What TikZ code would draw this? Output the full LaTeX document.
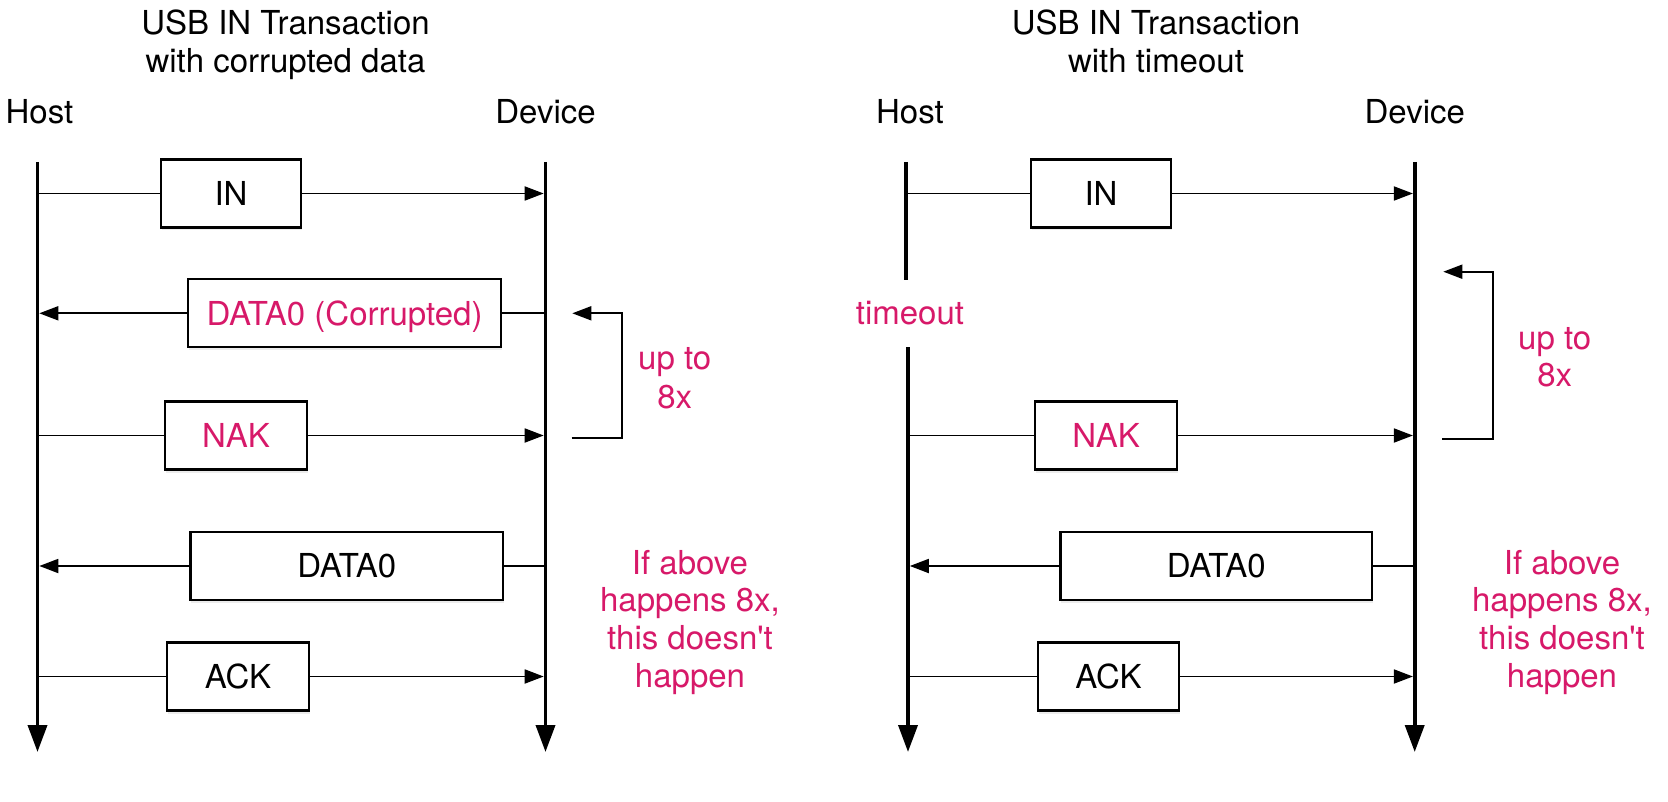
\documentclass[tikz,border=0pt]{standalone}
\usepackage{fontspec}
\setmainfont{TeX Gyre Heros}
\usetikzlibrary{arrows.meta,shadows}
\definecolor{mag}{RGB}{215,25,105}
\begin{document}
\begin{tikzpicture}[x=1pt,y=-1pt,
  every node/.style={font=\fontsize{33}{38}\selectfont, inner sep=0pt},
  life/.style={line width=3.7pt},
  lifearrow/.style={line width=3.7pt,-{Triangle[length=27pt,width=19pt]}},
  msg/.style={line width=1.8pt},
  msgarrow/.style={line width=1.8pt,-{Triangle[length=19pt,width=14pt]},shorten >=1.8pt},
  loopline/.style={line width=1.8pt,-{Triangle[length=19pt,width=14pt]}},
  pkt/.style={draw,line width=2.2pt,fill=white,minimum height=68pt,text height=23.7pt,text depth=0pt,
    drop shadow={shadow xshift=0.5pt,shadow yshift=-3pt,opacity=0.15}},
  lbl/.style={anchor=base},
  note/.style={anchor=base,text=mag}]
\useasboundingbox (0,0) rectangle (1668,802);

% ---------- Left diagram ----------
\coordinate (LHt) at (37.5,162);
\coordinate (LHb) at (37.5,752);
\coordinate (LDt) at (545.5,162);
\coordinate (LDb) at (545.5,752);

\node[lbl] (Lt1) at (285.5,34.3) {USB IN Transaction};
\node[lbl] (Lt2) at (285.5,72.7) {with corrupted data};
\node[lbl] (Lhost) at (39.5,123.3) {Host};
\node[lbl] (Ldev) at (545.5,123.3) {Device};

\node[pkt,minimum width=140pt] (Lin) at (231,193.5) {IN};
\node[pkt,minimum width=313pt,text=mag] (Ldc) at (344.5,313.3) {DATA0 (Corrupted)};
\node[pkt,minimum width=142pt,text=mag] (Lnak) at (236,435.5) {NAK};
\node[pkt,minimum width=312.5pt] (Ldata) at (346.75,566) {DATA0};
\node[pkt,minimum width=142pt] (Lack) at (238,676.5) {ACK};

\draw[msg] (LHt |- Lin.west) -- (Lin.west);
\draw[msgarrow] (Lin.east) -- (LDt |- Lin.east);
\draw[msg] (LDt |- Ldc.east) -- (Ldc.east);
\draw[msgarrow] (Ldc.west) -- (LHt |- Ldc.west);
\draw[msg] (LHt |- Lnak.west) -- (Lnak.west);
\draw[msgarrow] (Lnak.east) -- (LDt |- Lnak.east);
\draw[msg] (LDt |- Ldata.east) -- (Ldata.east);
\draw[msgarrow] (Ldata.west) -- (LHt |- Ldata.west);
\draw[msg] (LHt |- Lack.west) -- (Lack.west);
\draw[msgarrow] (Lack.east) -- (LDt |- Lack.east);

\draw[lifearrow] (LHt) -- (LHb);
\draw[lifearrow] (LDt) -- (LDb);

\coordinate (Lb1) at (571.7,437.7);
\coordinate (Lb2) at (621.7,437.7);
\coordinate (Lb3) at (621.7,313.3);
\coordinate (Lb4) at (572.3,313.3);
\draw[loopline] (Lb1) -- (Lb2) -- (Lb3) -- (Lb4);

\node[note] (Lup1) at (674.7,370) {up to};
\node[note] (Lup2) at (674.7,408.3) {8x};

\node[note] (Lif1) at (690,574) {If above};
\node[note] (Lif2) at (690,611.7) {happens 8x,};
\node[note] (Lif3) at (690,649.5) {this doesn\textquotesingle t};
\node[note] (Lif4) at (690,687.3) {happen};

% ---------- Right diagram ----------
\coordinate (RHt) at (906,162);
\coordinate (RHm1) at (906,280);
\coordinate (RHm2) at (908,347);
\coordinate (RHb) at (908,752);
\coordinate (RDt) at (1414.7,162);
\coordinate (RDb) at (1414.7,752);

\node[lbl] (Rt1) at (1156,34.3) {USB IN Transaction};
\node[lbl] (Rt2) at (1156,72.7) {with timeout};
\node[lbl] (Rhost) at (910,123.3) {Host};
\node[lbl] (Rdev) at (1414.7,123.3) {Device};
\node[note] (Rto) at (910,325) {timeout};

\node[pkt,minimum width=140pt] (Rin) at (1101,193.5) {IN};
\node[pkt,minimum width=142pt,text=mag] (Rnak) at (1106,435.5) {NAK};
\node[pkt,minimum width=311.5pt] (Rdata) at (1216.25,566) {DATA0};
\node[pkt,minimum width=141pt] (Rack) at (1108.5,676.5) {ACK};

\draw[msg] (RHt |- Rin.west) -- (Rin.west);
\draw[msgarrow] (Rin.east) -- (RDt |- Rin.east);
\draw[msg] (RHm2 |- Rnak.west) -- (Rnak.west);
\draw[msgarrow] (Rnak.east) -- (RDt |- Rnak.east);
\draw[msg] (RDt |- Rdata.east) -- (Rdata.east);
\draw[msgarrow] (Rdata.west) -- (RHm2 |- Rdata.west);
\draw[msg] (RHm2 |- Rack.west) -- (Rack.west);
\draw[msgarrow] (Rack.east) -- (RDt |- Rack.east);

\draw[life] (RHt) -- (RHm1);
\draw[lifearrow] (RHm2) -- (RHb);
\draw[lifearrow] (RDt) -- (RDb);

\coordinate (Rb1) at (1442.3,439);
\coordinate (Rb2) at (1492.7,439);
\coordinate (Rb3) at (1492.7,271.7);
\coordinate (Rb4) at (1443.3,271.7);
\draw[loopline] (Rb1) -- (Rb2) -- (Rb3) -- (Rb4);

\node[note] (Rup1) at (1554.7,349) {up to};
\node[note] (Rup2) at (1554.7,386.7) {8x};

\node[note] (Rif1) at (1562,574) {If above};
\node[note] (Rif2) at (1562,611.7) {happens 8x,};
\node[note] (Rif3) at (1562,649.5) {this doesn\textquotesingle t};
\node[note] (Rif4) at (1562,687.3) {happen};
\end{tikzpicture}
\end{document}
